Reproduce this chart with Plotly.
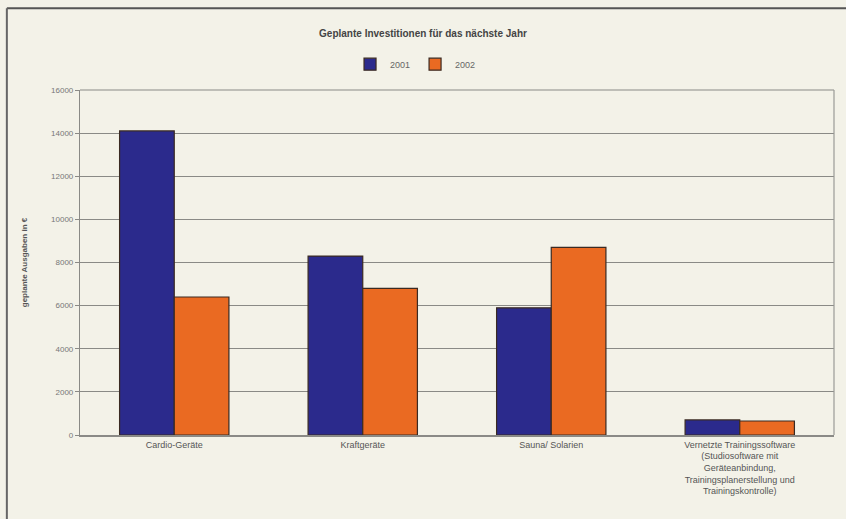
import plotly.graph_objects as go

categories = [
    "Cardio-Geräte",
    "Kraftgeräte",
    "Sauna/ Solarien",
    "Vernetzte Trainingssoftware<br>(Studiosoftware mit<br>Geräteanbindung,<br>Trainingsplanerstellung und<br>Trainingskontrolle)",
]
values_2001 = [14100, 8300, 5900, 700]
values_2002 = [6400, 6800, 8700, 650]
y_ticks = [0, 2000, 4000, 6000, 8000, 10000, 12000, 14000, 16000]
y_tick_labels = [str(v) for v in y_ticks]

bg = "#f3f2e8"
grid = "#8a8a86"
fig = go.Figure()
fig.add_trace(go.Bar(
    x=categories, y=values_2001, name="2001",
    marker=dict(color="#2b2a8c", line=dict(color="#3a2a22", width=1.2)),
))
fig.add_trace(go.Bar(
    x=categories, y=values_2002, name="2002",
    marker=dict(color="#ea6a22", line=dict(color="#3a2a22", width=1.2)),
))

fig.update_layout(
    width=846, height=519,
    margin=dict(l=80, r=12, t=90, b=84),
    paper_bgcolor=bg, plot_bgcolor=bg,
    barmode="group", bargap=0.42, bargroupgap=0,
    font=dict(family="Liberation Sans, Arial, sans-serif", size=9, color="#555555"),
    title=dict(
        text="<b>Geplante Investitionen für das nächste Jahr</b>",
        x=0.5, xanchor="center", y=0.935, yanchor="middle",
        font=dict(size=10, color="#444444"),
    ),
    legend=dict(
        orientation="h", x=0.445, xanchor="center", y=1.075, yanchor="middle",
        font=dict(size=9, color="#666666"), itemwidth=30,
        bgcolor="rgba(0,0,0,0)",
    ),
    showlegend=True,
)
fig.update_yaxes(
    range=[0, 16000], tickvals=y_ticks, ticktext=y_tick_labels,
    showgrid=True, gridcolor=grid, gridwidth=1.2,
    showline=True, linecolor=grid, linewidth=1.2,
    ticks="outside", ticklen=4, tickcolor=grid,
    tickfont=dict(size=8, color="#777777"),
    title=dict(text="<b>geplante Ausgaben in €</b>", font=dict(size=8, color="#555555"), standoff=22),
    zeroline=False,
)
fig.update_xaxes(
    showline=True, linecolor=grid, linewidth=1.5,
    tickfont=dict(size=9, color="#555555"),
    ticks="",
)
# top and right edges of the plot frame
fig.add_shape(type="line", xref="paper", yref="paper", x0=0, x1=1, y0=1, y1=1,
              line=dict(color=grid, width=1.2))
fig.add_shape(type="line", xref="paper", yref="paper", x0=1, x1=1, y0=0, y1=1,
              line=dict(color="#9a9a96", width=1.2))
# dark edges at the top and left of the page
fig.add_shape(type="line", xref="paper", yref="paper", x0=-0.097, x1=1.02, y0=1.237, y1=1.237,
              line=dict(color="#555555", width=2))
fig.add_shape(type="line", xref="paper", yref="paper", x0=-0.097, x1=-0.097, y0=-0.25, y1=1.237,
              line=dict(color="#666666", width=2))

fig.write_html("out.html")
